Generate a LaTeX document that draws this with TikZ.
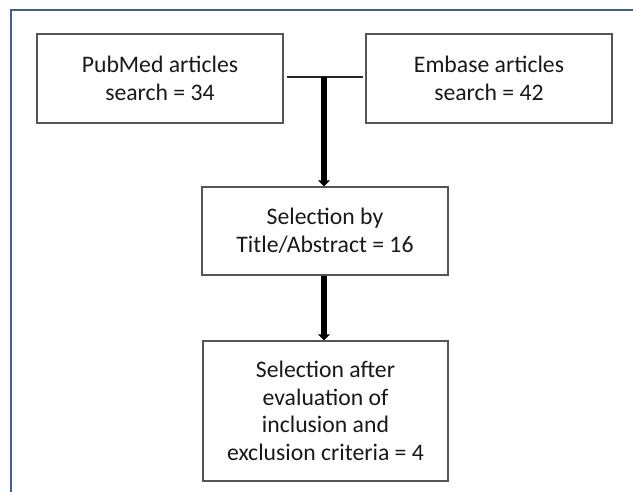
\documentclass[tikz,border=0pt]{standalone}
\usepackage{fontspec}
\setmainfont{Carlito}
\usetikzlibrary{arrows.meta}
\definecolor{framecol}{HTML}{3E6190}
\definecolor{boxcol}{HTML}{555555}
\tikzset{
  flowbox/.style={draw=boxcol, line width=1.4pt, fill=white, inner sep=0pt,
    align=center, font=\fontsize{23.7}{27.5}\selectfont, text=black!90},
  thickarrow/.style={line width=6pt, -{Triangle[width=12pt,length=6pt]}},
}
\begin{document}
\begin{tikzpicture}[x=1pt,y=-1pt]
\useasboundingbox (0,0) rectangle (633,492);
\fill[white] (0,0) rectangle (633,492);
\draw[framecol, line width=1.6pt] (11,492) -- (11,10) -- (633,10);
\node[flowbox, minimum width=246pt, minimum height=89pt] (pub) at (160,78.5) {PubMed articles\\search = 34};
\node[flowbox, minimum width=246pt, minimum height=89pt] (emb) at (489,78.5) {Embase articles\\search = 42};
\node[flowbox, minimum width=246pt, minimum height=88pt] (sel) at (325,231) {Selection by\\Title/Abstract = 16};
\node[flowbox, minimum width=245pt, minimum height=140pt] (fin) at (325.5,411) {Selection after\\evaluation of\\inclusion and\\exclusion criteria = 4};
\coordinate (join) at (324,77);
\draw[black!85, line width=1.8pt, shorten <=3pt, shorten >=2pt] (pub.east |- join) -- (emb.west |- join);
\draw[thickarrow] (join) -- (join |- sel.north);
\draw[thickarrow] (sel.south -| join) -- (fin.north -| join);
\end{tikzpicture}
\end{document}
